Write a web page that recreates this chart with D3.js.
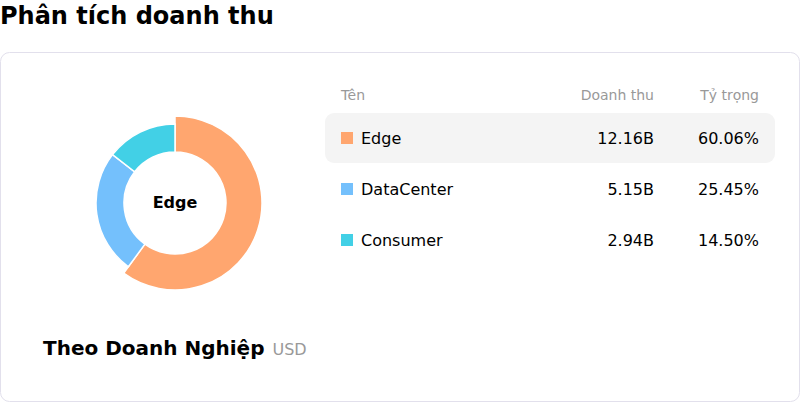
<!DOCTYPE html>
<html lang="vi">
<head>
<meta charset="utf-8">
<script src="https://d3js.org/d3.v7.min.js"></script>
<style>
  body { margin: 0; background: #fff; font-family: "DejaVu Sans", sans-serif; }
</style>
</head>
<body>
<div id="chart"></div>
<script>
const names = ["Edge", "DataCenter", "Consumer"];
const revenue = [12.16, 5.15, 2.94];          // tỷ USD
const share = [60.06, 25.45, 14.50];          // %
const colors = ["#ffa66f", "#74c0fc", "#42d0e6"];
const headers = ["Tên", "Doanh thu", "Tỷ trọng"];
const activeName = "Edge";

const width = 800, height = 402;

const svg = d3.select("#chart")
  .append("svg")
    .attr("width", width)
    .attr("height", height)
    .style("font-family", "'DejaVu Sans', sans-serif");

svg.append("text")
  .attr("x", 0)
  .attr("y", 24)
  .style("font-size", "24px")
  .style("font-weight", "bold")
  .attr("fill", "#000")
  .text("Phân tích doanh thu");

// card
svg.append("rect")
  .attr("x", 0.5).attr("y", 52.5)
  .attr("width", 799).attr("height", 349)
  .attr("rx", 9)
  .attr("fill", "#fff")
  .attr("stroke", "#e2e0ec");

// donut
const data = names.map((n, i) => ({ name: n, value: revenue[i], color: colors[i] }));
const pie = d3.pie().sort(null).value(d => d.value);
const arcs = pie(data);

const g = svg.append("g").attr("transform", "translate(175,203)");
const arc = d3.arc().innerRadius(51).outerRadius(79);
const arcActive = d3.arc().innerRadius(51).outerRadius(87);

g.selectAll("path")
  .data(arcs)
  .join("path")
    .attr("d", d => d.data.name === activeName ? arcActive(d) : arc(d))
    .attr("fill", d => d.data.color)
    .attr("stroke", "#fff")
    .attr("stroke-width", 1.5);

g.append("text")
  .attr("text-anchor", "middle")
  .attr("y", 5)
  .style("font-size", "16px")
  .style("font-weight", "bold")
  .attr("fill", "#000")
  .text(activeName);

// bottom title
const foot = svg.append("text")
  .attr("x", 43)
  .attr("y", 355);
foot.append("tspan")
  .style("font-size", "20px")
  .style("font-weight", "bold")
  .attr("fill", "#000")
  .text("Theo Doanh Nghiệp");
foot.append("tspan")
  .attr("dx", 8)
  .style("font-size", "16px")
  .attr("fill", "#999")
  .text("USD");

// table
const colX = [341, 654, 759];
const rowY = d3.scalePoint().domain(names).range([138, 240]);

const head = svg.append("g").style("font-size", "14px").attr("fill", "#999");
head.append("text").attr("x", colX[0]).attr("y", 100).text(headers[0]);
head.append("text").attr("x", colX[1]).attr("y", 100).attr("text-anchor", "end").text(headers[1]);
head.append("text").attr("x", colX[2]).attr("y", 100).attr("text-anchor", "end").text(headers[2]);

const rows = svg.append("g")
  .selectAll("g")
  .data(data)
  .join("g")
    .attr("transform", d => `translate(0,${rowY(d.name)})`);

rows.filter(d => d.name === activeName)
  .append("rect")
    .attr("x", 325).attr("y", -25)
    .attr("width", 450).attr("height", 50)
    .attr("rx", 9)
    .attr("fill", "#f4f4f4");

rows.append("rect")
  .attr("x", 341).attr("y", -6)
  .attr("width", 12).attr("height", 12)
  .attr("fill", d => d.color);

rows.append("text")
  .attr("x", 361).attr("y", 6)
  .style("font-size", "16px")
  .attr("fill", "#000")
  .text(d => d.name);

rows.append("text")
  .attr("x", colX[1]).attr("y", 6)
  .attr("text-anchor", "end")
  .style("font-size", "16px")
  .attr("fill", "#000")
  .text(d => d.value.toFixed(2) + "B");

rows.append("text")
  .attr("x", colX[2]).attr("y", 6)
  .attr("text-anchor", "end")
  .style("font-size", "16px")
  .attr("fill", "#000")
  .text((d, i) => share[i].toFixed(2) + "%");
</script>
</body>
</html>
